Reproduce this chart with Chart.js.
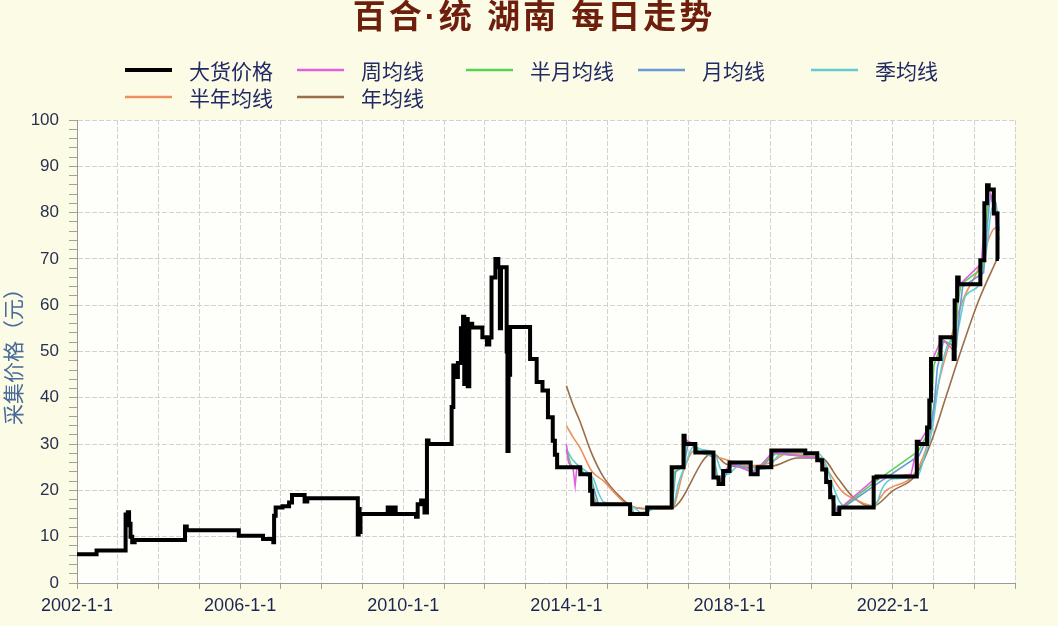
<!DOCTYPE html>
<html><head><meta charset="utf-8">
<script src="https://cdn.jsdelivr.net/npm/chart.js@4.4.1/dist/chart.umd.min.js"></script>
<style>html,body{margin:0;padding:0;background:#FCFBE6;}#wrap{position:relative;width:1058px;height:626px;}</style>
</head><body><div id="wrap"><canvas id="c" width="1058" height="626"></canvas></div>
<script>
const chartTitle = '百合·统 湖南 每日走势';
const yAxisTitle = '采集价格（元）';
const xTickLabels = ['2002-1-1','2006-1-1','2010-1-1','2014-1-1','2018-1-1','2022-1-1'];
const yTickLabels = ['0','10','20','30','40','50','60','70','80','90','100'];
const seriesNames = ['大货价格','周均线','半月均线','月均线','季均线','半年均线','年均线'];
const seriesColors = ['#000000','#E45FE0','#55D255','#6A98D8','#62CCD4','#EE8F5E','#9A6E4A'];

// 大货价格: [date, price held from that date]
const priceSeries = [
['2002-01-01',6.2],['2002-06-25',7.0],['2003-03-12',14.8],['2003-03-22',12.5],['2003-04-01',15.3],['2003-04-12',12.8],
['2003-04-25',10.0],['2003-05-10',8.8],['2003-06-01',9.3],['2004-08-25',12.2],['2004-09-10',11.4],['2005-12-20',10.2],
['2006-07-25',9.5],['2006-10-25',8.8],['2006-11-01',14.5],['2006-11-15',16.3],['2007-01-15',16.6],['2007-03-15',17.4],
['2007-04-10',19.0],['2007-08-01',17.6],['2007-08-25',18.3],['2008-11-20',10.5],['2008-11-28',16.0],['2008-12-06',11.0],
['2008-12-14',14.9],['2009-08-15',16.3],['2009-09-05',14.9],['2009-10-05',16.3],['2009-10-25',14.9],['2010-04-25',14.3],
['2010-05-10',17.0],['2010-06-10',17.8],['2010-07-10',15.2],['2010-08-01',30.8],['2010-08-15',30.0],['2011-03-10',38.0],
['2011-03-25',47.0],['2011-04-15',44.5],['2011-05-05',47.5],['2011-06-01',55.0],['2011-06-20',57.5],['2011-07-01',43.0],
['2011-07-15',57.0],['2011-08-01',42.5],['2011-08-15',56.0],['2011-09-10',55.2],['2011-12-10',53.1],['2012-01-20',51.5],
['2012-02-10',53.0],['2012-03-01',66.0],['2012-04-05',70.0],['2012-05-01',68.2],['2012-05-15',55.0],['2012-05-25',68.2],
['2012-07-15',50.0],['2012-07-22',28.5],['2012-08-01',45.0],['2012-08-15',55.3],['2013-02-10',48.4],['2013-04-10',43.4],
['2013-06-01',41.6],['2013-07-20',35.8],['2013-09-01',30.7],['2013-09-20',27.7],['2013-10-10',25.0],['2014-05-05',23.5],
['2014-08-01',19.9],['2014-08-20',17.0],['2015-07-25',14.9],['2015-12-25',16.3],['2016-08-01',25.0],['2016-11-15',31.8],
['2016-11-25',30.0],['2017-03-01',28.2],['2017-08-10',22.8],['2017-09-25',21.4],['2017-11-05',24.2],['2018-01-01',26.0],
['2018-07-10',23.5],['2018-09-10',25.0],['2019-01-10',28.6],['2019-11-10',28.0],['2020-02-25',26.5],['2020-04-10',24.5],
['2020-05-15',21.8],['2020-06-20',18.5],['2020-07-20',14.9],['2020-09-10',16.3],['2021-07-15',22.8],['2021-08-10',23.0],
['2022-08-05',30.5],['2022-08-20',30.0],['2022-11-05',33.6],['2022-11-25',39.4],['2022-12-10',48.4],['2023-03-05',53.1],
['2023-07-01',48.4],['2023-07-10',61.0],['2023-08-01',66.0],['2023-08-15',64.5],['2024-02-25',69.7],['2024-04-01',82.0],
['2024-04-25',85.9],['2024-05-10',85.0],['2024-06-25',79.8],['2024-07-28',70.0],['2024-08-10',70.0]
];
const weekMA = [
['2014-01-01',30],['2014-01-20',26],['2014-03-01',25],['2014-03-20',21],['2014-04-05',25],['2014-05-10',24],['2014-05-20',23.5],
['2014-08-05',23],['2014-08-25',18.5],['2014-09-20',17],['2015-07-25',17],['2015-08-10',15.2],['2015-12-25',15],['2016-01-10',16.3],
['2016-08-01',16.5],['2016-08-15',24.5],['2016-11-15',25.5],['2016-12-01',31],['2017-03-01',29.8],['2017-03-15',28.3],['2017-08-10',28],
['2017-08-25',23],['2017-09-30',21.5],['2017-11-15',24],['2018-01-10',25.8],['2018-07-15',24],['2018-09-15',24.8],['2019-01-20',28.2],
['2020-03-05',27],['2020-04-20',25],['2020-05-25',22],['2020-07-01',18.8],['2020-07-30',15.3],['2020-09-20',16.2],['2021-07-25',22.5],
['2022-06-15',23.5],['2022-08-10',29.5],['2022-11-15',33.5],['2022-12-05',40],['2022-12-20',48],['2023-03-15',52.8],['2023-07-10',50],
['2023-07-25',61],['2023-08-25',64.5],['2024-03-05',69],['2024-04-10',81],['2024-05-05',85.3],['2024-07-05',80.5],['2024-08-05',72]
];
const halfMonthMA = [
['2014-01-01',29],['2014-02-10',25.5],['2014-05-20',24.5],['2014-06-05',23.5],['2014-08-10',23],['2014-09-05',18.5],['2014-10-01',17],
['2015-07-30',17],['2015-08-20',15],['2015-12-30',15],['2016-01-20',16.3],['2016-08-05',16.5],['2016-08-25',24],['2016-11-20',25.5],
['2016-12-10',30.5],['2017-03-10',29.6],['2017-03-25',28.3],['2017-08-15',27.5],['2017-09-05',23],['2017-10-10',21.8],['2017-11-25',24],
['2018-01-20',25.7],['2018-07-25',24],['2018-09-25',24.8],['2019-02-01',28],['2020-03-10',27.2],['2020-04-30',24.8],['2020-06-05',21.5],
['2020-07-10',18.5],['2020-08-10',15.6],['2020-10-01',16.3],['2021-08-05',22],['2022-08-20',28.5],['2022-11-25',33],['2022-12-15',39],
['2023-01-05',47],['2023-03-25',52.5],['2023-07-20',51],['2023-08-05',60],['2023-09-05',64.5],['2024-03-15',68],['2024-04-20',79],
['2024-05-15',84.5],['2024-07-10',81],['2024-08-10',74]
];
const monthMA = [
['2014-01-01',28.5],['2014-02-05',25.2],['2014-05-10',24.8],['2014-06-05',23.5],['2014-08-05',23.2],['2014-09-15',19.5],['2014-10-15',17],
['2015-07-28',17],['2015-08-28',15],['2015-12-28',15],['2016-01-28',16.3],['2016-08-05',16.4],['2016-09-05',24],['2016-11-20',25.3],
['2016-12-25',30],['2017-03-05',29.5],['2017-04-05',28.2],['2017-08-15',27.2],['2017-09-15',23],['2017-10-25',21.8],['2017-12-10',23.8],
['2018-02-01',25.7],['2018-07-20',24.5],['2018-08-20',23.8],['2018-10-01',24.8],['2019-02-15',28],['2020-03-15',27],['2020-05-01',24.5],
['2020-06-10',21.5],['2020-07-15',18.5],['2020-08-20',15.6],['2020-10-15',16.3],['2021-08-20',21.5],['2022-08-25',27.5],['2022-11-30',32.5],
['2023-01-10',39],['2023-02-05',46.5],['2023-04-01',52.2],['2023-07-25',51],['2023-08-25',59],['2023-09-20',64],['2024-03-25',67],
['2024-04-30',78],['2024-05-25',84],['2024-07-15',82],['2024-08-10',76]
];
const quarterMA = [
['2014-01-01',29],['2014-03-01',26.5],['2014-06-01',24.6],['2014-09-01',22.5],['2014-10-15',19.5],['2014-12-01',17.5],['2015-07-01',17],
['2015-09-15',16],['2015-11-01',15.2],['2016-02-01',15.8],['2016-04-01',16.3],['2016-08-10',16.5],['2016-10-01',21.5],['2016-12-01',25.5],
['2017-02-15',29.5],['2017-05-01',28.8],['2017-08-20',28],['2017-10-15',24.5],['2017-12-15',23.5],['2018-03-01',25],['2018-06-01',25.8],
['2018-09-01',24.6],['2018-12-01',24.8],['2019-03-15',27.5],['2019-06-01',28.3],['2020-03-15',27.8],['2020-05-15',25.5],['2020-07-15',21],
['2020-09-15',17.5],['2020-12-01',16.3],['2021-07-25',16.5],['2021-10-01',20.5],['2022-01-01',22.5],['2022-08-10',23],['2022-10-15',27.5],
['2022-12-20',33],['2023-02-15',43],['2023-05-01',51],['2023-08-01',54],['2023-10-15',62],['2024-02-15',64.5],['2024-04-20',72],
['2024-06-10',81],['2024-08-10',80]
];
const halfYearMA = [
['2014-01-01',34],['2014-03-01',31.5],['2014-05-01',29.3],['2014-08-15',24.2],['2014-12-01',22],['2015-05-01',18.1],['2015-08-15',16.3],
['2016-08-01',16],['2016-11-15',24.2],['2017-02-15',28.5],['2017-08-01',27.5],['2018-01-01',26.4],['2018-06-15',25.3],['2019-01-01',26],
['2019-06-01',27.9],['2020-02-15',27.6],['2020-06-01',24.2],['2020-10-01',19.9],['2021-03-01',17.7],['2021-07-01',16.7],['2021-11-01',19.9],
['2022-08-01',24.2],['2022-11-15',30.7],['2023-02-15',43],['2023-06-01',52.4],['2023-09-20',61],['2024-02-01',67.5],['2024-06-15',76.2],
['2024-08-10',77]
];
const yearMA = [
['2014-01-01',42.6],['2014-03-01',38.5],['2014-05-01',35],['2014-08-15',28],['2014-12-01',22.8],['2015-05-01',18.5],['2015-08-01',16.7],
['2016-01-01',16],['2016-08-01',16.2],['2017-08-01',28],['2017-12-01',25.7],['2018-06-01',25],['2019-02-01',25.3],['2019-09-01',27],
['2020-04-01',27],['2020-09-01',22.5],['2021-01-15',18.5],['2021-07-01',16.5],['2022-01-01',19.9],['2022-08-01',23.5],['2022-12-15',30.7],
['2023-05-01',40.8],['2023-09-15',50.9],['2024-02-10',61],['2024-08-01',70.4]
];

function toYear(s){
  const p = s.split('-').map(Number);
  const t = Date.UTC(p[0], p[1]-1, p[2]);
  const t0 = Date.UTC(p[0],0,1), t1 = Date.UTC(p[0]+1,0,1);
  return p[0] + (t - t0) / (t1 - t0);
}
function pts(arr){ return arr.map(r => ({x: toYear(r[0]), y: r[1]})); }

const allSeries = [priceSeries, weekMA, halfMonthMA, monthMA, quarterMA, halfYearMA, yearMA];
const datasets = allSeries.map((s, i) => ({
  label: seriesNames[i],
  data: pts(s),
  borderColor: seriesColors[i],
  backgroundColor: seriesColors[i],
  borderWidth: i === 0 ? 4 : 1.6,
  pointRadius: 0,
  cubicInterpolationMode: i >= 4 ? 'monotone' : 'default',
  tension: 0,
  stepped: i === 0 ? 'before' : false,
  borderJoinStyle: 'miter',
  borderCapStyle: 'butt',
  fill: false
}));

const legendLayout = { rows: [70, 97], cols: [125, 297, 466, 638, 811], perRow: 5, lineLen: 47, textGap: 64 };

const decorPlugin = {
  id: 'decor',
  beforeDraw(chart) {
    const {ctx, chartArea: a} = chart;
    ctx.save();
    ctx.fillStyle = '#FCFBE6';
    ctx.fillRect(0, 0, chart.width, chart.height);
    ctx.fillStyle = '#FEFEFB';
    ctx.fillRect(a.left, a.top, a.right - a.left, a.bottom - a.top);
    ctx.restore();
  },
  afterDraw(chart) {
    const ctx = chart.ctx;
    ctx.save();
    ctx.font = 'bold 33px "Liberation Sans", "Noto Sans CJK SC"';
    if ('letterSpacing' in ctx) ctx.letterSpacing = '3px';
    ctx.fillStyle = '#6E1E0C';
    ctx.textAlign = 'center';
    ctx.textBaseline = 'middle';
    ctx.fillText(chartTitle, 534, 19);
    if ('letterSpacing' in ctx) ctx.letterSpacing = '0px';
    ctx.font = '21px "Noto Sans CJK SC"';
    ctx.textAlign = 'left';
    chart.data.datasets.forEach((ds, i) => {
      const row = Math.floor(i / legendLayout.perRow), col = i % legendLayout.perRow;
      const x = legendLayout.cols[col], y = legendLayout.rows[row];
      ctx.strokeStyle = ds.borderColor;
      ctx.lineWidth = i === 0 ? 4 : 2.5;
      ctx.beginPath(); ctx.moveTo(x, y); ctx.lineTo(x + legendLayout.lineLen, y); ctx.stroke();
      ctx.fillStyle = '#222A66';
      ctx.fillText(ds.label, x + legendLayout.textGap, y + 1);
    });
    ctx.restore();
  }
};

new Chart(document.getElementById('c'), {
  type: 'line',
  data: { datasets },
  plugins: [decorPlugin],
  options: {
    responsive: false, animation: false, devicePixelRatio: 1,
    layout: { padding: { top: 120, right: 43, left: 0, bottom: 0 } },
    plugins: { legend: { display: false }, title: { display: false }, tooltip: { enabled: false } },
    scales: {
      x: {
        type: 'linear', min: 2002, max: 2025,
        afterBuildTicks: s => { const t = []; for (let y = 2002; y <= 2025; y++) t.push({value: y}); s.ticks = t; },
        ticks: {
          autoSkip: false, maxRotation: 0, minRotation: 0, padding: 6, color: '#1C2452',
          font: { size: 18, family: '"Liberation Sans", Arial, sans-serif' },
          callback: v => { const k = (v - 2002) / 4; return Number.isInteger(k) && k < xTickLabels.length ? xTickLabels[k] : ''; }
        },
        grid: { color: '#D2D2D2', lineWidth: 1, tickLength: 6, tickColor: '#A0A0A0' },
        border: { color: '#9A9A9A', dash: [5, 2] },
        afterFit: s => { s.height = 43; }
      },
      y: {
        min: 0, max: 100,
        ticks: {
          stepSize: 2, autoSkip: false, padding: 10, color: '#2A3050',
          font: { size: 17, family: '"Liberation Sans", Arial, sans-serif' },
          callback: v => (v % 10 === 0 ? yTickLabels[v / 10] : '')
        },
        grid: {
          color: c => (c.tick && c.tick.value % 10 === 0 ? '#D2D2D2' : 'rgba(0,0,0,0)'),
          tickColor: '#A0A0A0', tickLength: 8
        },
        border: { color: '#9A9A9A', dash: [5, 2] },
        title: { display: true, text: yAxisTitle, color: '#4A6A9A', font: { size: 21, family: '"Noto Sans CJK SC"' }, padding: 0 },
        afterFit: s => { s.width = 77; }
      }
    }
  }
});
</script></body></html>
